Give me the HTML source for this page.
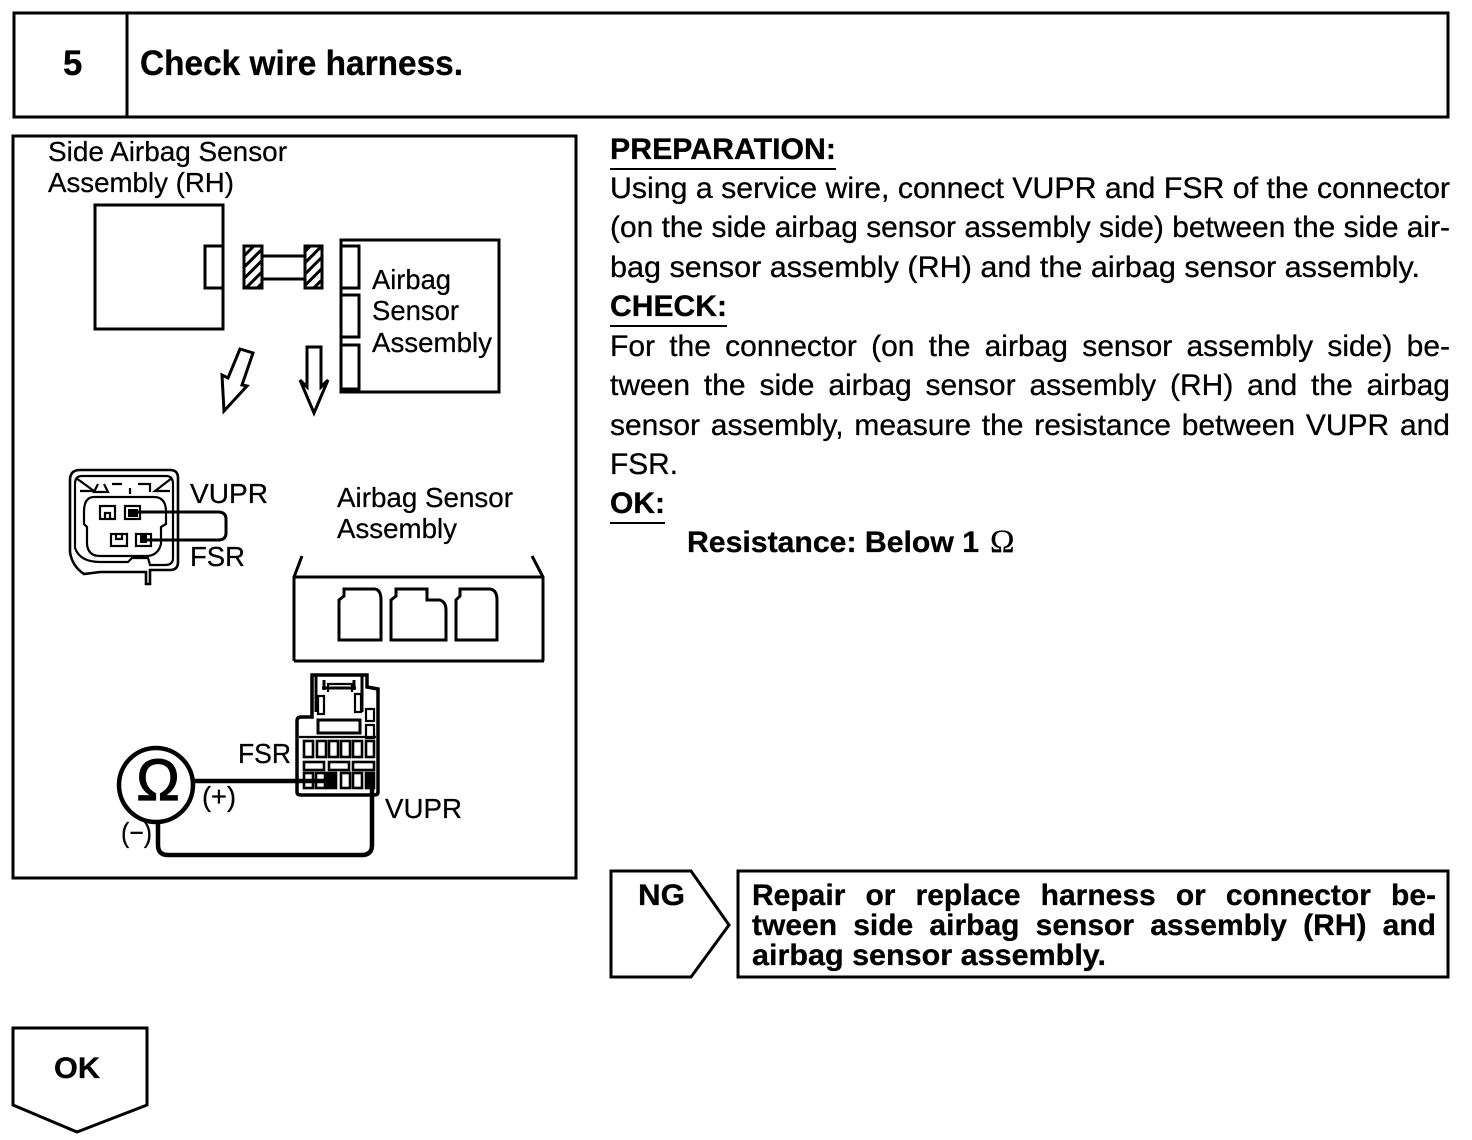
<!DOCTYPE html>
<html><head><meta charset="utf-8"><style>
html,body{margin:0;padding:0;background:#fff}
body{position:relative;width:1472px;height:1140px;overflow:hidden}
svg{display:block;position:absolute;left:0;top:0}
text{font-family:"Liberation Sans",sans-serif;fill:#000}
.b{font-weight:bold}
.t{font-size:30px;stroke:#000;stroke-width:.3px}
.d{font-size:27.7px;stroke:#000;stroke-width:.25px}
.s{fill:none;stroke:#000;stroke-width:3}
.f{fill:none;stroke:#000;stroke-width:2.2}
.j{position:absolute;font-family:"Liberation Sans",sans-serif;font-size:30px;line-height:34px;height:34px;text-align:justify;text-align-last:justify;color:#000;-webkit-text-stroke:.3px #000}
.r{left:610px;width:840px}
.k{left:752px;width:684px;font-weight:bold}
</style></head><body>
<svg width="1472" height="1140" viewBox="0 0 1472 1140" xmlns="http://www.w3.org/2000/svg">
<defs><pattern id="h" width="8" height="8" patternUnits="userSpaceOnUse" patternTransform="rotate(45)"><rect width="8" height="8" fill="#fff"/><rect width="3" height="8" fill="#000"/></pattern></defs>
<!-- header -->
<rect x="14" y="13" width="1434" height="104" class="s"/>
<line x1="127" y1="13" x2="127" y2="117" class="s"/>
<text x="63" y="75" class="b" font-size="34.8" stroke="#000" stroke-width=".3">5</text>
<text x="140" y="75" class="b" font-size="34.8" stroke="#000" stroke-width=".3" textLength="323" lengthAdjust="spacingAndGlyphs">Check wire harness.</text>
<!-- diagram frame -->
<rect x="13" y="136" width="563" height="742" class="s"/>
<text x="48" y="161" class="d" textLength="239" lengthAdjust="spacingAndGlyphs">Side Airbag Sensor</text>
<text x="48" y="192" class="d" textLength="186" lengthAdjust="spacingAndGlyphs">Assembly (RH)</text>
<rect x="95" y="205" width="128" height="124" class="s"/>
<rect x="205" y="246" width="18" height="42" class="s"/>
<rect x="244" y="246" width="18" height="42" class="s" style="fill:url(#h)"/>
<rect x="305" y="246" width="17" height="42" class="s" style="fill:url(#h)"/>
<line x1="262" y1="256" x2="305" y2="256" class="s"/>
<line x1="262" y1="279" x2="305" y2="279" class="s"/>
<rect x="341" y="240" width="158" height="152" class="s"/>
<rect x="341" y="246" width="18" height="42" class="s"/>
<rect x="341" y="295" width="18" height="42" class="s"/>
<rect x="341" y="345" width="18" height="44" class="s"/>
<text x="372" y="289" class="d" textLength="79" lengthAdjust="spacingAndGlyphs">Airbag</text>
<text x="372" y="320" class="d" textLength="87" lengthAdjust="spacingAndGlyphs">Sensor</text>
<text x="372" y="352" class="d" textLength="120" lengthAdjust="spacingAndGlyphs">Assembly</text>
<!-- arrows -->
<path d="M240 349 L253 353 L242 385 L247 386 L224 411 L222 375 L228 378 Z" class="s"/>
<path d="M307 347 H321 V387 L328 380 L314 413 L300 380 L307 387 Z" class="s"/>
<!-- connector 1 -->
<path d="M80 470 H170 Q178 470 178 478 V562 Q178 570 170 570 H150 V584 H146 V572 H100 L84 574 Q72 566 70 552 V480 Q70 470 80 470 Z" class="f" style="stroke-width:2.6"/>
<path d="M82 476 H166 Q173 476 173 484 V558 Q173 565 165 565 H150 L148 558 H132 L128 562 H100 Q80 562 75 548 V484 Q75 476 82 476 Z" class="f"/>
<path d="M76 478 L94 491 L80 491 M172 478 L155 491 L170 491" class="f"/>
<path d="M98 484 L94 492 H108 L104 484 M112 484 H122 M130 488 V494 M138 484 H150 V492" class="f"/>
<path d="M94 497 H154 Q166 497 166 512 V524 L161 527 V544 Q158 556 146 556 H100 Q88 556 87 544 V527 L84 524 V512 Q84 497 94 497 Z" class="f"/>
<rect x="100" y="506" width="15" height="13" class="f"/>
<path d="M105 519 V513 H110 V519" class="f"/>
<rect x="125" y="506" width="15" height="13" class="f"/>
<rect x="128" y="509" width="10" height="8" fill="#000"/>
<rect x="111" y="534" width="16" height="12" class="f"/>
<path d="M116 534 V539 H122 V534" class="f"/>
<rect x="136" y="534" width="15" height="12" class="f"/>
<rect x="140" y="534" width="7" height="9" fill="#000"/>
<path d="M132 512 H218 Q226 512 226 519 V533 Q226 540 218 540 H144" class="s"/>
<text x="190" y="503" class="d" textLength="78" lengthAdjust="spacingAndGlyphs">VUPR</text>
<text x="190" y="566" class="d" textLength="55" lengthAdjust="spacingAndGlyphs">FSR</text>
<text x="337" y="507" class="d" textLength="176" lengthAdjust="spacingAndGlyphs">Airbag Sensor</text>
<text x="337" y="538" class="d" textLength="120" lengthAdjust="spacingAndGlyphs">Assembly</text>
<!-- ECU box -->
<path d="M294 661 V577 L302 556 M294 577 H542 M532 556 L543 577 V661 M294 661 H544" class="s"/>
<path d="M339 640 V600 L344 596 V589 H375 Q381 590 381 600 V640 Z" class="s"/>
<path d="M391 640 V600 L396 596 V589 H427 V600 H440 Q446 602 446 610 V640 Z" class="s"/>
<path d="M456 640 V600 L460 596 V589 H490 Q497 590 497 600 V640 Z" class="s"/>
<!-- connector 2 -->
<path d="M312 675 H367 V687 L378 689 V792 Q378 795 374 795 H301 Q297 795 297 792 V721 Q297 717 301 717 H312 Z" class="s" style="stroke-width:3.5"/>
<path d="M316 676 V712 M362 676 V712 M322 688 H356 M324 680 V690 M354 680 V690" class="s"/>
<rect x="318" y="696" width="6" height="18" class="f"/>
<rect x="355" y="694" width="6" height="18" class="f"/>
<path d="M328 692 V684 H352 V692" class="f"/>
<rect x="318" y="720" width="42" height="13" class="s"/>
<rect x="366" y="709" width="8" height="12" class="f"/>
<rect x="366" y="725" width="8" height="13" class="f"/>
<path d="M299 737 H376" class="f"/>
<g class="s" style="stroke-width:2.6"><rect x="304" y="741" width="9" height="16"/><rect x="317" y="741" width="9" height="16"/><rect x="329" y="741" width="9" height="16"/><rect x="341" y="741" width="9" height="16"/><rect x="353" y="741" width="9" height="16"/><rect x="366" y="741" width="8" height="16"/>
<rect x="304" y="762" width="20" height="8"/><rect x="329" y="762" width="20" height="8"/><rect x="353" y="762" width="21" height="8"/>
<rect x="304" y="773" width="9" height="15"/><rect x="316" y="773" width="9" height="15"/><rect x="327" y="773" width="9" height="15"/><rect x="341" y="773" width="9" height="15"/><rect x="353" y="773" width="9" height="15"/><rect x="366" y="773" width="8" height="15"/></g>
<rect x="328" y="774" width="9" height="13" fill="#000"/>
<rect x="366" y="772" width="9" height="16" fill="#000"/>
<!-- meter -->
<circle cx="156" cy="785" r="37" fill="none" stroke="#000" stroke-width="4.5"/>
<text x="158" y="800" text-anchor="middle" font-size="58" style="font-family:'Liberation Sans',sans-serif" stroke="#000" stroke-width="1.2">Ω</text>
<path d="M192 781 H336" fill="none" stroke="#000" stroke-width="4.5"/>
<path d="M372 780 V845 Q372 855 362 855 H168 Q158 855 158 845 V820" fill="none" stroke="#000" stroke-width="4.5"/>
<text x="238" y="763" class="d" textLength="53" lengthAdjust="spacingAndGlyphs">FSR</text>
<text x="202" y="806" class="d" textLength="34" lengthAdjust="spacingAndGlyphs">(+)</text>
<text x="121" y="842" class="d" textLength="31" lengthAdjust="spacingAndGlyphs">(−)</text>
<text x="385" y="818" class="d" textLength="77" lengthAdjust="spacingAndGlyphs">VUPR</text>
<!-- right text -->
<text x="610" y="159" class="b t" textLength="226" lengthAdjust="spacingAndGlyphs">PREPARATION:</text>
<line x1="610" y1="169" x2="836" y2="169" stroke="#000" stroke-width="2"/>
<text x="610" y="198" class="t" textLength="840" lengthAdjust="spacingAndGlyphs">Using a service wire, connect VUPR and FSR of the connector</text>
<text x="610" y="237" class="t" textLength="840" lengthAdjust="spacingAndGlyphs">(on the side airbag sensor assembly side) between the side air-</text>
<text x="610" y="277" class="t" textLength="810" lengthAdjust="spacingAndGlyphs">bag sensor assembly (RH) and the airbag sensor assembly.</text>
<text x="610" y="316" class="b t" textLength="117" lengthAdjust="spacingAndGlyphs">CHECK:</text>
<line x1="610" y1="326" x2="727" y2="326" stroke="#000" stroke-width="2"/>
<text x="610" y="474" class="t" textLength="68" lengthAdjust="spacingAndGlyphs">FSR.</text>
<text x="610" y="513" class="b t" textLength="55" lengthAdjust="spacingAndGlyphs">OK:</text>
<line x1="610" y1="523" x2="665" y2="523" stroke="#000" stroke-width="2"/>
<text x="687" y="552" class="b t" textLength="292" lengthAdjust="spacingAndGlyphs">Resistance: Below 1</text>
<text x="990" y="552" font-size="33" style="font-family:'Liberation Serif',serif" stroke="#000" stroke-width=".2">Ω</text>
<!-- NG -->
<path d="M611 871 H691 L729 925 L691 977 H611 Z" class="s"/>
<text x="638" y="905" class="b t" textLength="47" lengthAdjust="spacingAndGlyphs">NG</text>
<rect x="738" y="871" width="710" height="106" class="s"/>
<text x="752" y="965" class="b t" textLength="354" lengthAdjust="spacingAndGlyphs">airbag sensor assembly.</text>
<!-- OK -->
<path d="M13 1028 H147 V1105 L77 1132 L13 1105 Z" class="s"/>
<text x="54" y="1078" class="b t" textLength="46" lengthAdjust="spacingAndGlyphs">OK</text>
</svg>
<div class="j r" style="top:330px">For the connector (on the airbag sensor assembly side) be-</div>
<div class="j r" style="top:369px">tween the side airbag sensor assembly (RH) and the airbag</div>
<div class="j r" style="top:409px">sensor assembly, measure the resistance between VUPR and</div>
<div class="j k" style="top:879px">Repair or replace harness or connector be-</div>
<div class="j k" style="top:909px">tween side airbag sensor assembly (RH) and</div>
</body></html>
